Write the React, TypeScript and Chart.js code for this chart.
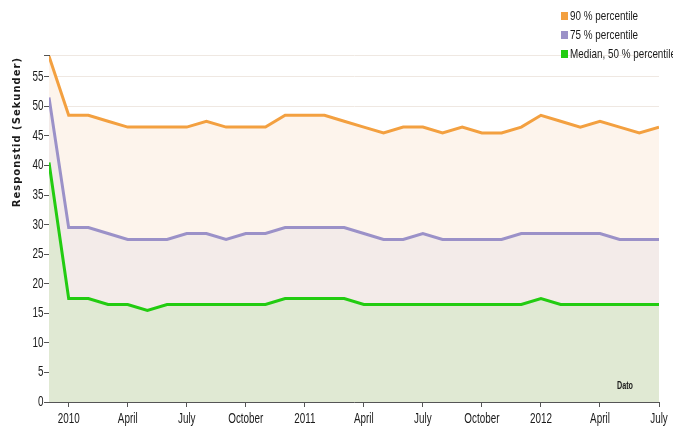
import React, { useEffect, useRef } from 'react';
import { Chart, registerables } from 'chart.js';

Chart.register(...registerables);

// Month index: 0 = January 2010 (first point is December 2009)
const months = [-1, 0, 1, 2, 3, 4, 5, 6, 7, 8, 9, 10, 11, 12, 13, 14, 15, 16, 17, 18, 19, 20, 21, 22, 23, 24, 25, 26, 27, 28, 29, 30];

const p90 = [58.5, 48.5, 48.5, 47.5, 46.5, 46.5, 46.5, 46.5, 47.5, 46.5, 46.5, 46.5, 48.5, 48.5, 48.5, 47.5, 46.5, 45.5, 46.5, 46.5, 45.5, 46.5, 45.5, 45.5, 46.5, 48.5, 47.5, 46.5, 47.5, 46.5, 45.5, 46.5];
const p75 = [51.5, 29.5, 29.5, 28.5, 27.5, 27.5, 27.5, 28.5, 28.5, 27.5, 28.5, 28.5, 29.5, 29.5, 29.5, 29.5, 28.5, 27.5, 27.5, 28.5, 27.5, 27.5, 27.5, 27.5, 28.5, 28.5, 28.5, 28.5, 28.5, 27.5, 27.5, 27.5];
const p50 = [40.5, 17.5, 17.5, 16.5, 16.5, 15.5, 16.5, 16.5, 16.5, 16.5, 16.5, 16.5, 17.5, 17.5, 17.5, 17.5, 16.5, 16.5, 16.5, 16.5, 16.5, 16.5, 16.5, 16.5, 16.5, 17.5, 16.5, 16.5, 16.5, 16.5, 16.5, 16.5];

const xTickPositions = [0, 3, 6, 9, 12, 15, 18, 21, 24, 27, 30];
const xTickLabels = ['2010', 'April', 'July', 'October', '2011', 'April', 'July', 'October', '2012', 'April', 'July'];
const yTickValues = [0, 5, 10, 15, 20, 25, 30, 35, 40, 45, 50, 55];
const yMax = 58.7;
const yTitle = 'Responstid (Sekunder)';
const xTitle = 'Dato';

const seriesNames = ['90 % percentile', '75 % percentile', 'Median, 50 % percentile'];
const lineColors = ['#f3a040', '#9b91c8', '#22cc11'];
const fillColors = ['#fdf4ec', '#f3ebe9', '#e0e9d3'];

const SANS = "'Liberation Sans', Arial, sans-serif";
const SQUEEZE = 0.76;
const STRETCH_Y = 1.08;

const textPlugin = {
  id: 'axisText',
  afterDraw(chart: any) {
    const { ctx, chartArea } = chart;
    const xs = chart.scales.x;
    const ys = chart.scales.y;
    ctx.save();
    ctx.fillStyle = '#1a1a1a';
    ctx.textBaseline = 'middle';
    ctx.font = `13px ${SANS}`;
    xTickPositions.forEach((v, i) => {
      const px = xs.getPixelForValue(v);
      ctx.save();
      ctx.translate(px, chartArea.bottom + 17);
      ctx.scale(SQUEEZE, STRETCH_Y);
      ctx.textAlign = 'center';
      ctx.fillText(xTickLabels[i], 0, 0);
      ctx.restore();
    });
    yTickValues.forEach((v) => {
      const py = ys.getPixelForValue(v);
      ctx.save();
      ctx.translate(chartArea.left - 5.5, py);
      ctx.scale(SQUEEZE, STRETCH_Y);
      ctx.textAlign = 'right';
      ctx.fillText(String(v), 0, 0);
      ctx.restore();
    });
    // x-axis title inside plot
    ctx.save();
    ctx.font = `bold 10px ${SANS}`;
    ctx.translate(chartArea.right - 34, chartArea.bottom - 16);
    ctx.scale(0.72, 1);
    ctx.textAlign = 'center';
    ctx.fillText(xTitle, 0, 0);
    ctx.restore();
    // y-axis title
    ctx.save();
    ctx.font = `bold 10px 'DejaVu Sans', sans-serif`;
    (ctx as any).letterSpacing = '1px';
    ctx.translate(17, chartArea.top + 2);
    ctx.rotate(-Math.PI / 2);
    ctx.textAlign = 'right';
    ctx.fillText(yTitle, 0, 0);
    ctx.restore();
    ctx.restore();
  },
};

export default function App() {
  const ref = useRef<HTMLCanvasElement>(null);

  useEffect(() => {
    if (!ref.current) return;
    const mk = (vals: number[]) => months.map((m, i) => ({ x: m, y: vals[i] }));
    const fills = ['+1', '+1', 'origin'];
    const chart = new Chart(ref.current, {
      type: 'line',
      data: {
        datasets: [p90, p75, p50].map((vals, i) => ({
          label: seriesNames[i],
          data: mk(vals),
          borderColor: lineColors[i],
          backgroundColor: fillColors[i],
          borderWidth: 3,
          pointRadius: 0,
          tension: 0,
          fill: fills[i],
        })),
      },
      options: {
        animation: false,
        responsive: false,
        devicePixelRatio: 1,
        layout: { padding: { top: 55, right: 14, left: 0, bottom: 0 } },
        plugins: {
          legend: { display: false },
          tooltip: { enabled: false },
          filler: { drawTime: 'beforeDatasetsDraw' },
        },
        scales: {
          x: {
            type: 'linear',
            min: -1,
            max: 30,
            afterBuildTicks: (scale: any) => {
              scale.ticks = xTickPositions.map((v) => ({ value: v }));
            },
            afterFit: (scale: any) => {
              scale.height = 31;
            },
            grid: {
              drawOnChartArea: false,
              tickColor: '#555',
              tickLength: 5,
            },
            border: { color: '#555', width: 1 },
            ticks: { display: false, autoSkip: false, maxRotation: 0 },
          },
          y: {
            type: 'linear',
            min: 0,
            max: yMax,
            afterBuildTicks: (scale: any) => {
              scale.ticks = [...yTickValues, yMax].map((v) => ({ value: v }));
            },
            afterFit: (scale: any) => {
              scale.width = 49;
            },
            grid: {
              color: '#efe8e2',
              tickColor: '#555',
              tickLength: 5,
            },
            border: { color: '#555', width: 1 },
            ticks: { display: false },
          },
        },
      },
      plugins: [textPlugin],
    } as any);
    return () => chart.destroy();
  }, []);

  const legendRows = seriesNames.map((name, i) => (
    <div
      key={name}
      style={{
        position: 'absolute',
        left: 561,
        top: 6 + i * 19,
        height: 19,
        display: 'flex',
        alignItems: 'center',
        whiteSpace: 'nowrap',
        fontFamily: SANS,
        fontSize: 13,
        color: '#1a1a1a',
      }}
    >
      <span style={{ display: 'inline-block', width: 7, height: 8, background: lineColors[i], marginRight: 2 }} />
      <span style={{ display: 'inline-block', transform: `scaleX(${SQUEEZE})`, transformOrigin: 'left center' }}>{name}</span>
    </div>
  ));

  return (
    <div style={{ position: 'absolute', left: 0, top: 0, width: 673, height: 433, background: '#fff', overflow: 'hidden' }}>
      <canvas ref={ref} width={673} height={433} style={{ width: 673, height: 433, display: 'block' }} />
      {legendRows}
    </div>
  );
}
